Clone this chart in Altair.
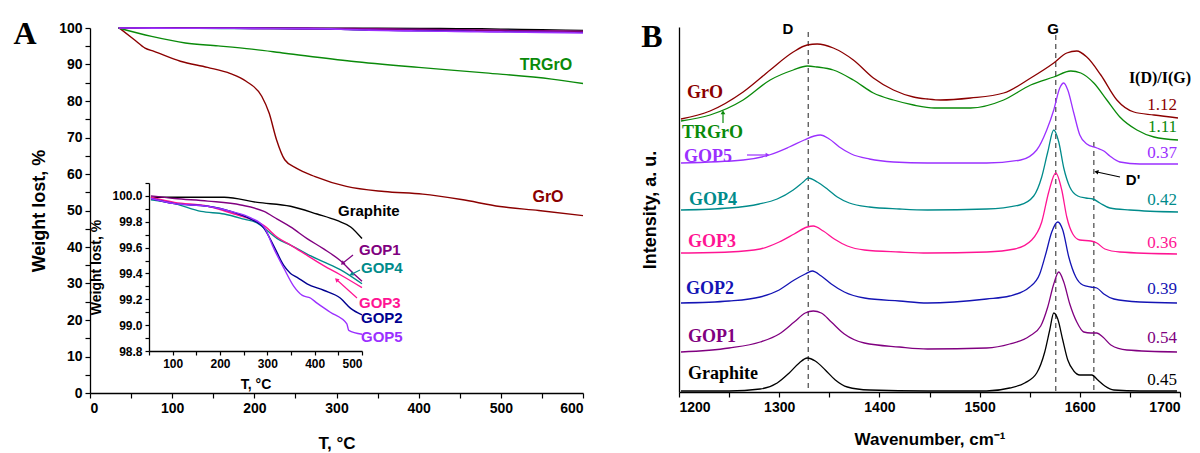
import math
import altair as alt
import pandas as pd

SANS = "Liberation Sans"
SERIF = "Liberation Serif"

# ---------------- Panel A : TGA, main plot ----------------
GrO_T = [35.6, 54, 67, 78, 110, 143, 171, 190, 209, 218, 227, 237, 251, 274, 312, 358, 405, 452, 499, 546, 600]
GrO_W = [100, 96.8, 94.5, 93.6, 90.9, 89.2, 87.5, 85.4, 81.3, 76.7, 69.4, 63.9, 61.6, 59.3, 56.6, 55.2, 54.5, 53.0, 51.1, 50.0, 48.6]
TRGrO_T = [34.4, 75, 116, 156, 197, 237, 318, 400, 481, 562, 600]
TRGrO_W = [100, 97.7, 95.9, 95.1, 94.2, 93.1, 90.9, 89.2, 87.7, 86.0, 84.8]

# ---------------- Panel A : inset (50-500 C) ----------------
Graphite_T = [54, 104, 209, 279, 349, 405, 447, 476, 500]
Graphite_W = [99.99, 99.99, 99.99, 99.95, 99.92, 99.86, 99.81, 99.76, 99.67]
GOP1_T = [54, 104, 174, 244, 293, 321, 349, 384, 419, 454, 482, 500]
GOP1_W = [100.0, 99.98, 99.96, 99.93, 99.88, 99.82, 99.76, 99.67, 99.59, 99.50, 99.40, 99.34]
GOP4_T = [54, 104, 160, 209, 251, 279, 300, 321, 349, 384, 419, 454, 500]
GOP4_W = [99.97, 99.94, 99.88, 99.86, 99.82, 99.79, 99.73, 99.67, 99.62, 99.55, 99.49, 99.43, 99.32]
GOP3_T = [54, 104, 174, 230, 265, 293, 321, 349, 384, 419, 454, 500]
GOP3_W = [99.99, 99.95, 99.92, 99.86, 99.82, 99.77, 99.68, 99.62, 99.54, 99.46, 99.39, 99.29]
GOP2_T = [54, 104, 174, 223, 265, 293, 314, 335, 349, 363, 384, 419, 454, 476, 500]
GOP2_W = [99.98, 99.94, 99.92, 99.88, 99.82, 99.75, 99.61, 99.46, 99.40, 99.37, 99.32, 99.27, 99.21, 99.13, 99.08]
GOP5_T = [54, 104, 174, 223, 265, 293, 314, 335, 356, 374, 391, 405, 433, 468, 472, 500]
GOP5_W = [99.98, 99.94, 99.92, 99.88, 99.83, 99.76, 99.59, 99.44, 99.30, 99.23, 99.21, 99.17, 99.10, 99.01, 98.96, 98.93]

# main-plot start and tails (beyond 500 C) for the near-100 % curves
start_T, start_W = 35, 100
tail_T = [550, 600]
tail_W = {
    "Graphite": [99.5, 99.3],
    "GOP1": [99.2, 99.05],
    "GOP4": [99.2, 99.05],
    "GOP3": [99.15, 99.0],
    "GOP2": [98.95, 98.85],
    "GOP5": [98.8, 98.65],
}

# ---------------- Panel B : Raman spectra ----------------
B_GrO_wn = [1202, 1231, 1264, 1291, 1314, 1328, 1338, 1354, 1374, 1394, 1414, 1434, 1448, 1461, 1491, 1524, 1551, 1574, 1587, 1597, 1607, 1621, 1637, 1654, 1674, 1698]
B_GrO_I = [273, 281, 300, 322, 340, 347, 348, 344, 332, 314, 302, 295, 293, 292, 294, 299, 314, 329, 339, 341, 335, 317, 292, 280, 277, 274]
B_TRGrO_wn = [1202, 1231, 1264, 1291, 1314, 1328, 1338, 1354, 1374, 1394, 1414, 1434, 1455, 1491, 1524, 1551, 1574, 1591, 1601, 1614, 1627, 1640, 1657, 1674, 1698]
B_TRGrO_I = [271, 277, 292, 312, 322, 326, 325, 322, 312, 299, 292, 287, 284, 284, 292, 307, 315, 321, 319, 309, 292, 275, 262, 255, 252]
B_GOP5_wn = [1202, 1264, 1290, 1310, 1325, 1335, 1341, 1350, 1360, 1372, 1390, 1414, 1448, 1507, 1541, 1557, 1567, 1574, 1580, 1584, 1588, 1594, 1600, 1607, 1617, 1624, 1630, 1640, 1660, 1698]
B_GOP5_I = [229, 232, 237, 245, 252, 256, 257, 253, 245, 238, 233, 230, 229, 229, 232, 242, 262, 282, 304, 309, 302, 279, 257, 248, 244, 241, 236, 230, 228, 228]
B_GOP4_wn = [1202, 1250, 1280, 1298, 1314, 1324, 1329, 1338, 1348, 1358, 1370, 1390, 1420, 1448, 1507, 1540, 1554, 1562, 1568, 1574, 1579, 1584, 1590, 1598, 1606, 1613, 1620, 1630, 1650, 1698]
B_GOP4_I = [182, 184, 188, 193, 202, 210, 214, 210, 203, 195, 189, 185, 183, 182, 183, 187, 196, 215, 240, 262, 250, 224, 205, 196, 194, 193, 189, 184, 182, 180]
B_GOP3_wn = [1202, 1250, 1281, 1300, 1315, 1328, 1334, 1344, 1355, 1368, 1385, 1420, 1448, 1507, 1535, 1552, 1562, 1569, 1576, 1582, 1587, 1593, 1600, 1611, 1617, 1625, 1640, 1697]
B_GOP3_I = [139, 140, 143, 150, 158, 165, 166, 161, 153, 146, 142, 140, 139, 140, 143, 152, 170, 200, 219, 202, 175, 158, 152, 151, 149, 143, 140, 138]
B_GOP2_wn = [1202, 1250, 1281, 1300, 1315, 1326, 1333, 1342, 1352, 1365, 1385, 1420, 1448, 1507, 1530, 1550, 1560, 1566, 1572, 1578, 1583, 1589, 1596, 1603, 1611, 1617, 1624, 1634, 1660, 1697]
B_GOP2_I = [89, 91, 95, 102, 112, 118, 121, 116, 108, 100, 94, 91, 89, 93, 96, 105, 118, 138, 160, 170, 162, 135, 115, 107, 105, 104, 98, 93, 90, 89]
B_GOP1_wn = [1202, 1250, 1281, 1300, 1315, 1326, 1334, 1342, 1352, 1365, 1385, 1420, 1448, 1507, 1530, 1550, 1561, 1568, 1574, 1579, 1584, 1590, 1597, 1604, 1611, 1617, 1623, 1631, 1647, 1697]
B_GOP1_I = [40, 44, 50, 58, 70, 79, 81, 79, 70, 58, 49, 45, 43, 44, 48, 56, 66, 85, 108, 120, 110, 88, 70, 60, 59, 59, 55, 47, 42, 40]
B_Graphite_wn = [1202, 1250, 1281, 1298, 1310, 1320, 1328, 1336, 1346, 1356, 1368, 1390, 1448, 1507, 1530, 1545, 1557, 1565, 1570, 1574, 1578, 1583, 1588, 1594, 1600, 1607, 1612, 1618, 1625, 1634, 1660, 1697]
B_Graphite_I = [1, 1, 3, 9, 19, 29, 34, 31, 22, 12, 5, 2, 1, 1, 4, 9, 19, 40, 62, 79, 73, 52, 32, 21, 17, 17, 17, 12, 6, 2, 1, 1]

band_names = ["D", "G", "D'"]
band_wn = [1329, 1576, 1614]
band_top = [360, 357, 250]

ratio_names = ["GrO", "TRGrO", "GOP5", "GOP4", "GOP3", "GOP2", "GOP1", "Graphite"]
ratio_values = ["1.12", "1.11", "0.37", "0.42", "0.36", "0.39", "0.54", "0.45"]

# ---------------- colours ----------------
COL = {
    "GrO": "#8B0000",
    "TRGrO": "#0A8A0A",
    "GOP5": "#9B30FF",
    "GOP4": "#008B8B",
    "GOP3": "#FF1493",
    "GOP2": "#000090",
    "GOP1": "#800080",
    "Graphite": "#000000",
}
COL_B = dict(COL, GOP2="#1414B4")

AX = dict(domainColor="black", tickColor="black", labelColor="black", titleColor="black",
          labelFont=SANS, labelFontWeight="bold", titleFont=SANS, titleFontWeight="bold",
          grid=False, labelOverlap=False, domainWidth=1.3, tickWidth=1.2)

# ---------------- scales / axes (absolute pixel ranges) ----------------
A_x = alt.Scale(domain=[0, 600], range=[90, 583], nice=False, zero=False)
A_y = alt.Scale(domain=[0, 100], range=[393, 28], nice=False, zero=False)
axA_x = alt.Axis(orient="bottom", offset=-60, values=list(range(0, 601, 50)), format="d",
                 labelExpr="datum.value % 100 == 0 ? datum.label : ''",
                 title="T, °C", labelFontSize=14, titleFontSize=17, tickSize=5,
                 labelPadding=3, titlePadding=20, **AX)
axA_y = alt.Axis(orient="left", offset=-90, values=list(range(0, 101, 5)), format="d",
                 labelExpr="datum.value % 10 == 0 ? datum.label : ''",
                 title="Weight lost, %", labelFontSize=14, titleFontSize=18, tickSize=5,
                 labelPadding=3, titlePadding=10, **AX)

I_x = alt.Scale(domain=[50, 500], range=[149, 362], nice=False, zero=False)
I_y = alt.Scale(domain=[98.8, 100.1], range=[351, 183], nice=False, zero=False)
axI_x = alt.Axis(orient="bottom", offset=-102, values=list(range(50, 501, 50)), format="d",
                 labelExpr="datum.value % 100 == 0 ? datum.label : ''",
                 title="T, °C", labelFontSize=12, titleFontSize=14, tickSize=4,
                 labelPadding=3, titlePadding=8, **AX)
axI_y = alt.Axis(orient="left", offset=-149, values=[round(98.8 + 0.1 * i, 1) for i in range(14)],
                 labelExpr="round(datum.value * 10) % 2 == 0 ? format(datum.value, '.1f') : ''",
                 title="Weight lost, %", labelFontSize=12, titleFontSize=14, tickSize=4,
                 labelPadding=3, titlePadding=8, **AX)

B_x = alt.Scale(domain=[1200, 1700], range=[679, 1180], nice=False, zero=False)
B_y = alt.Scale(domain=[0, 365], range=[392, 27], nice=False, zero=False)
axB_x = alt.Axis(orient="bottom", offset=-61, values=list(range(1200, 1701, 50)), format="d",
                 labelExpr="datum.value % 100 == 0 ? datum.label : ''",
                 title="Wavenumber, cm⁻¹", labelFontSize=14, titleFontSize=17, tickSize=5,
                 labelPadding=3, titlePadding=17, **AX)
axB_y = alt.Axis(orient="left", offset=-679, labels=False, ticks=False,
                 title="Intensity, a. u.", titleFontSize=18, titlePadding=20, **AX)


def line(df, xf, yf, xs, ys, xa, ya, color, width=1.4):
    return alt.Chart(df).mark_line(color=color, strokeWidth=width, interpolate="monotone").encode(
        x=alt.X(f"{xf}:Q", scale=xs, axis=xa),
        y=alt.Y(f"{yf}:Q", scale=ys, axis=ya),
    )


# ---- panel A main ----
near100 = {
    "Graphite": (Graphite_T, Graphite_W),
    "GOP4": (GOP4_T, GOP4_W),
    "GOP3": (GOP3_T, GOP3_W),
    "GOP2": (GOP2_T, GOP2_W),
    "GOP1": (GOP1_T, GOP1_W),
    "GOP5": (GOP5_T, GOP5_W),
}
A_layers = [
    line(pd.DataFrame({"T": GrO_T, "W": GrO_W}), "T", "W", A_x, A_y, axA_x, axA_y, COL["GrO"]),
    line(pd.DataFrame({"T": TRGrO_T, "W": TRGrO_W}), "T", "W", A_x, A_y, axA_x, axA_y, COL["TRGrO"]),
]
for name, (ts, ws) in near100.items():
    df = pd.DataFrame({"T": [start_T] + ts + tail_T, "W": [start_W] + ws + tail_W[name]})
    A_layers.append(line(df, "T", "W", A_x, A_y, axA_x, axA_y, COL[name], 1.6))
panelA = alt.layer(*A_layers)

# ---- inset ----
inset_layers = []
for name, (ts, ws) in near100.items():
    df = pd.DataFrame({"Ti": ts, "Wi": ws})
    inset_layers.append(line(df, "Ti", "Wi", I_x, I_y, axI_x, axI_y, COL[name], 1.4))
panelInset = alt.layer(*inset_layers)

# ---- panel B ----
spectra = [
    ("Graphite", B_Graphite_wn, B_Graphite_I),
    ("GOP1", B_GOP1_wn, B_GOP1_I),
    ("GOP2", B_GOP2_wn, B_GOP2_I),
    ("GOP3", B_GOP3_wn, B_GOP3_I),
    ("GOP4", B_GOP4_wn, B_GOP4_I),
    ("TRGrO", B_TRGrO_wn, B_TRGrO_I),
    ("GrO", B_GrO_wn, B_GrO_I),
    ("GOP5", B_GOP5_wn, B_GOP5_I),
]
rules_df = pd.DataFrame({"wn": band_wn, "I": band_top, "I0": [0] * len(band_wn)})
B_layers = [
    alt.Chart(rules_df).mark_rule(color="#555555", strokeWidth=1.3, strokeDash=[5, 4]).encode(
        x=alt.X("wn:Q", scale=B_x, axis=axB_x),
        y=alt.Y("I:Q", scale=B_y, axis=axB_y),
        y2="I0:Q",
    )
]
for name, wn, inten in spectra:
    B_layers.append(line(pd.DataFrame({"wn": wn, "I": inten}), "wn", "I", B_x, B_y, axB_x, axB_y, COL_B[name], 1.3))
panelB = alt.layer(*B_layers)

# ---------------- annotations ----------------
dummy = pd.DataFrame({"k": [0]})


def txt(t, x, y, color="black", size=15, font=SANS, weight="bold", align="center"):
    return alt.Chart(dummy).mark_text(text=t, color=color, fontSize=size, font=font, fontWeight=weight,
                                      align=align, baseline="middle").encode(x=alt.value(x), y=alt.value(y))


def arrow(x1, y1, x2, y2, color):
    ang = math.degrees(math.atan2(x2 - x1, -(y2 - y1))) % 360
    ln = alt.Chart(dummy).mark_rule(color=color, strokeWidth=1.2).encode(
        x=alt.value(x1), y=alt.value(y1), x2=alt.value(x2), y2=alt.value(y2))
    hd = alt.Chart(dummy).mark_point(shape="triangle", filled=True, size=22, angle=ang, color=color, opacity=1).encode(
        x=alt.value(x2), y=alt.value(y2))
    return [ln, hd]


annos = [
    txt("A", 25, 34, size=32, font=SERIF),
    txt("B", 652, 37, size=32, font=SERIF),
    txt("TRGrO", 546, 65, COL["TRGrO"], 16),
    txt("GrO", 548, 197, COL["GrO"], 16),
    txt("Graphite", 338, 211, "black", 15, align="left"),
    txt("GOP1", 359, 250, COL["GOP1"], 15, align="left"),
    txt("GOP4", 361, 268, COL["GOP4"], 15, align="left"),
    txt("GOP3", 359, 303, COL["GOP3"], 15, align="left"),
    txt("GOP2", 361, 318, COL["GOP2"], 15, align="left"),
    txt("GOP5", 361, 337, COL["GOP5"], 15, align="left"),
    txt(band_names[0], 788, 29, "black", 15),
    txt(band_names[1], 1053, 29, "black", 15),
    txt(band_names[2], 1133, 180, "black", 15),
    txt("I(D)/I(G)", 1160, 78, "black", 16, font=SERIF),
]
annos += arrow(353, 255, 343, 263, COL["GOP1"])
annos += arrow(360, 270, 352, 274, COL["GOP4"])
annos += arrow(357, 298, 337, 280, COL["GOP3"])
annos += arrow(723, 123, 723, 113, COL["TRGrO"])
annos += arrow(747, 155, 767, 155, COL["GOP5"])
annos += arrow(1120, 177, 1097, 172, "black")

label_pos = {"GrO": (687, 93), "TRGrO": (682, 133), "GOP5": (684, 157), "GOP4": (689, 200),
             "GOP3": (688, 242), "GOP2": (686, 289), "GOP1": (688, 337), "Graphite": (688, 374)}
ratio_y = [105, 127, 153, 200, 243, 289, 338, 380]
for name, val, ry in zip(ratio_names, ratio_values, ratio_y):
    lx, ly = label_pos[name]
    annos.append(txt(name, lx, ly, COL_B[name], 18, font=SERIF, align="left"))
    annos.append(txt(val, 1177, ry, COL_B[name], 17, font=SERIF, weight="normal", align="right"))

chart = alt.layer(panelA, panelInset, panelB, *annos).resolve_scale(
    x="independent", y="independent"
).properties(
    width=1200, height=453, padding=0,
    autosize=alt.AutoSizeParams(type="none"),
).configure_view(stroke=None)

chart.save("out.html", embed_options={"renderer": "svg", "actions": False})
